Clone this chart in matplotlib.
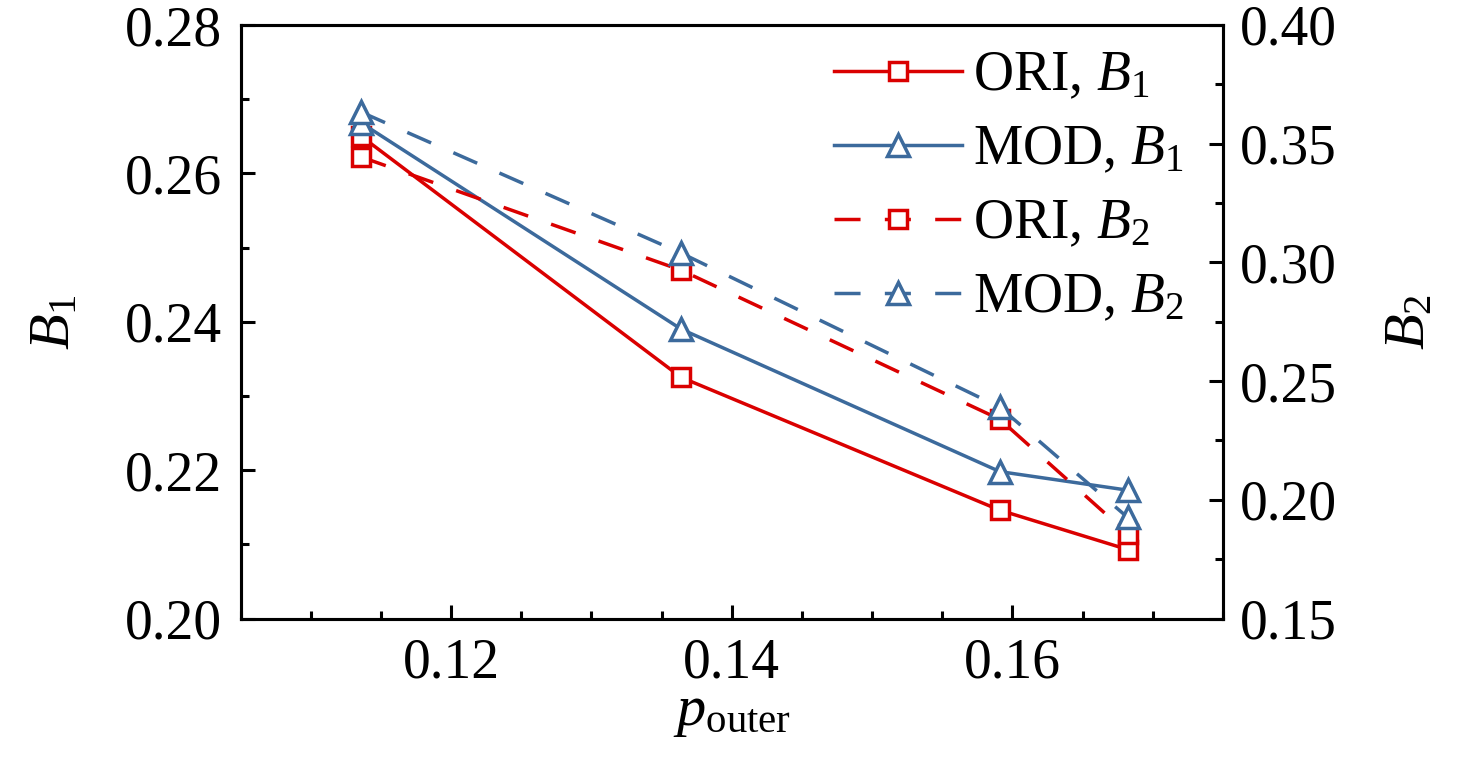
import matplotlib
matplotlib.use("Agg")
import matplotlib.pyplot as plt
from matplotlib.ticker import MultipleLocator, FormatStrFormatter

# ---- data ----
p_outer = [0.1136, 0.1364, 0.1591, 0.1682]
ori_b1 = [0.2650, 0.2325, 0.2146, 0.2093]
mod_b1 = [0.2668, 0.2390, 0.2198, 0.2173]
ori_b2 = [0.3444, 0.2967, 0.2339, 0.1858]
mod_b2 = [0.3633, 0.3039, 0.2390, 0.1926]
labels = ["ORI, $B_1$", "MOD, $B_1$", "ORI, $B_2$", "MOD, $B_2$"]

RED = "#DA0000"
BLUE = "#3C6A9C"

plt.rcParams["font.family"] = ["Liberation Serif", "DejaVu Serif"]
plt.rcParams["mathtext.fontset"] = "custom"
plt.rcParams["mathtext.rm"] = "Liberation Serif"
plt.rcParams["mathtext.it"] = "Liberation Serif:italic"
plt.rcParams["mathtext.bf"] = "Liberation Serif:bold"

FS = 40
fig = plt.figure(figsize=(14.76, 7.74), dpi=100)
ax = fig.add_axes([240.5/1476, 1-618.5/774, (1223-240.5)/1476, (618.5-25)/774])
ax2 = ax.twinx()

lw = 2.5
dash = (7.5, 7)
sq, tri = 12.5, 16
l1, = ax.plot(p_outer, ori_b1, color=RED, lw=lw, marker="s", ms=sq, mfc="white",
              mec=RED, mew=lw, label=labels[0])
l2, = ax.plot(p_outer, mod_b1, color=BLUE, lw=lw, marker="^", ms=tri, mfc="white",
              mec=BLUE, mew=lw, label=labels[1])
l3, = ax2.plot(p_outer, ori_b2, color=RED, lw=lw, ls=(0, dash), marker="s", ms=sq,
               mfc="white", mec=RED, mew=lw, label=labels[2])
l4, = ax2.plot(p_outer, mod_b2, color=BLUE, lw=lw, ls=(0, dash), marker="^", ms=tri,
               mfc="white", mec=BLUE, mew=lw, label=labels[3])

ax.set_xlim(0.105, 0.175)
ax.set_ylim(0.20, 0.28)
ax2.set_ylim(0.15, 0.40)

ax.xaxis.set_major_locator(MultipleLocator(0.02))
ax.xaxis.set_minor_locator(MultipleLocator(0.005))
ax.yaxis.set_major_locator(MultipleLocator(0.02))
ax.yaxis.set_minor_locator(MultipleLocator(0.01))
ax2.yaxis.set_major_locator(MultipleLocator(0.05))
ax2.yaxis.set_minor_locator(MultipleLocator(0.025))
ax.xaxis.set_major_formatter(FormatStrFormatter("%.2f"))
ax.yaxis.set_major_formatter(FormatStrFormatter("%.2f"))
ax2.yaxis.set_major_formatter(FormatStrFormatter("%.2f"))

for a in (ax, ax2):
    for s in a.spines.values():
        s.set_linewidth(2.2)
ax.tick_params(axis="both", which="major", direction="in", length=10, width=2.2,
               labelsize=FS, pad=13)
ax.tick_params(axis="both", which="minor", direction="in", length=5.5, width=2.2)
ax.tick_params(axis="x", pad=14)
ax2.tick_params(axis="y", which="major", direction="in", length=10, width=2.2,
                labelsize=FS, pad=12)
ax2.tick_params(axis="y", which="minor", direction="in", length=5.5, width=2.2)

ax.set_xlabel(r"$p_{\mathrm{outer}}$", fontsize=FS + 2, labelpad=-2)
ax.set_ylabel(r"$B_1$", fontsize=FS + 2, labelpad=32)
ax2.set_ylabel(r"$B_2$", fontsize=FS + 2, labelpad=34)

leg = ax2.legend(handles=[l1, l2, l3, l4], loc="upper left",
                 bbox_to_anchor=(834/1476, 1-50/774), bbox_transform=fig.transFigure,
                 frameon=False, fontsize=FS, handlelength=2.3, handletextpad=0.2,
                 labelspacing=0.4, borderpad=0, borderaxespad=0)

fig.savefig("out.png", dpi=100)
